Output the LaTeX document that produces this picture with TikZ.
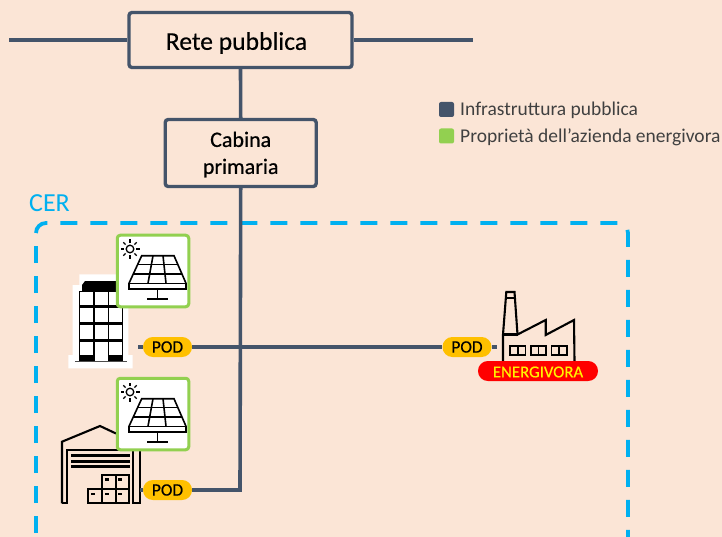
\documentclass[tikz,border=0pt]{standalone}
\usepackage{fontspec}
\usetikzlibrary{calc}
\setmainfont{Carlito}
\newfontfamily\semib[FakeBold=0.6]{Carlito}
\newfontfamily\semic[FakeBold=0.3]{Carlito}
\newcommand{\lowerby}[2]{\raisebox{0pt}[\dimexpr\height+#1\relax][\depth]{#2}}
\definecolor{bgc}{HTML}{FBE5D6}
\definecolor{infra}{HTML}{44546A}
\definecolor{greenp}{HTML}{92D050}
\definecolor{podc}{HTML}{FFC000}
\definecolor{cerc}{HTML}{00B0F0}
\definecolor{txtg}{HTML}{404040}
\tikzset{
  conn/.style={draw=infra,line width=3.6pt},
  bigbox/.style={draw=infra,line width=3.4pt,rounded corners=3pt,fill=bgc,align=center,inner sep=0pt},
  podbox/.style={fill=podc,rounded corners=9.9pt,minimum width=49pt,minimum height=20pt,inner sep=0pt,font=\semic\fontsize{17.4}{17.4}\selectfont},
  redbox/.style={fill=red,rounded corners=9.9pt,minimum width=120pt,minimum height=20pt,inner sep=0pt,text=yellow,font=\semic\fontsize{16.8}{16.8}\selectfont},
  pvbox/.style={draw=greenp,line width=3pt,fill=white,rounded corners=3pt,minimum width=71.5pt,minimum height=71.5pt,inner sep=0pt},
  icon/.style={draw=black,line width=1.6pt},
  iconb/.style={draw=black,line width=2.1pt},
  cerline/.style={cerc,line width=3.8pt},
  legtxt/.style={anchor=west,inner sep=0pt,text=txtg,font=\fontsize{19.5}{20}\selectfont},
  legsq/.style={rounded corners=2pt,minimum width=15pt,minimum height=15pt,inner sep=0pt}
}
\newcommand{\pvicon}[2]{%
\begin{scope}[shift={(#1,#2)}]
 \draw[black,line width=1.3pt] (14,15) circle (3.8);
 \foreach \a in {0,45,...,315}{\draw[black,line width=1.3pt] ($(14,15)+(\a:6.2)$) -- ($(14,15)+(\a:9.5)$);}
 \draw[icon] (25.7,21.7) -- (58,21.7) -- (70,49.3) -- (70,55) -- (13,55) -- (13,49.3) -- cycle;
 \draw[icon] (13,49.3) -- (70,49.3);
 \draw[icon] (21.5,30.5) -- (62,30.5);
 \draw[icon] (17,40) -- (66,40);
 \draw[icon] (37,21.7) -- (32,49.3);
 \draw[icon] (47,21.7) -- (50,49.3);
 \draw[icon] (41.5,55) -- (41.5,65);
 \draw[icon] (31,65) -- (52,65);
\end{scope}}
\begin{document}
\begin{tikzpicture}[x=1pt,y=-1pt]
\useasboundingbox (0,0) rectangle (722,537);
\fill[bgc] (0,0) rectangle (722,537);
\begin{scope}
\clip (0,0) rectangle (722,537);
\draw[cerline,rounded corners=10pt,dash pattern=on 17pt off 13pt] (36,233) -- (36,223) -- (628,223) -- (628,560);
\draw[cerline,dash pattern=on 17pt off 13pt,dash phase=17pt] (36,233) -- (36,560);
\end{scope}
\node[anchor=west,inner sep=0pt,text=cerc,font=\fontsize{26}{26}\selectfont] (cer) at (29,203) {CER};

\coordinate (wl) at (9,40);
\coordinate (wr) at (473,40);
\coordinate (j1) at (240,347);
\coordinate (j2) at (240,490);
\coordinate (s1) at (138,347);
\coordinate (s2) at (140,490);
\coordinate (s3) at (497,347);

% building
\fill[white] (72.7,285) -- (79.3,285) -- (79.3,274.3) -- (128.3,274.3) -- (128.3,355) -- (132.7,355) -- (132.7,368.3) -- (68.3,368.3) -- (68.3,355) -- (72.7,355) -- cycle;
\fill[black] (82,291.7) -- (82,285) -- (85,281) -- (120,281) -- (120,291.7) -- cycle;
\draw[black,line width=1.3pt] (79.5,291.7) rectangle (122.5,361.5);
\draw[black,line width=1.3pt] (94,291.7) -- (94,361) (108.3,291.7) -- (108.3,361);
\fill[black] (79.5,305) rectangle (122.5,308.3);
\fill[black] (79.5,322.3) rectangle (122.5,325);
\fill[black] (79.5,339) rectangle (122.5,341.7);
\fill[black] (79.5,355) rectangle (94,361.5);
\fill[black] (108.3,355) rectangle (122.5,361.5);
\draw[black!70,line width=.6pt] (75,361.7) -- (127,361.7);

% warehouse
\draw[iconb,line join=miter] (62,503.3) -- (62,441.7) -- (100,426) -- (116,433.5);
\draw[iconb,line join=miter] (62,503.3) -- (67.3,503.3) -- (67.3,450) -- (133.3,450) -- (133.3,503.3) -- (140,503.3) -- (140,442);
\fill[black] (71,453.7) rectangle (130,456.7);
\fill[black] (71,459.5) rectangle (130,462.5);
\fill[black] (71,465) rectangle (130,468);
\draw[black,line width=1.7pt] (88,489.3) rectangle (129.3,503.3);
\draw[black,line width=1.7pt] (102,475.3) rectangle (129.3,489.3);
\draw[black,line width=1.7pt] (102,489.3) -- (102,503.3) (115.7,475.3) -- (115.7,503.3);
\foreach \p in {(105,478),(117.7,478),(91,492.5),(105,492.5),(117.7,492.5)}{\fill[black] \p rectangle ++(4,2.7);}

% PV panels
\node[pvbox] (pv1) at (153,271) {};
\pvicon{116}{234}
\node[pvbox] (pv2) at (153,414) {};
\pvicon{116}{377}

% factory
\draw[iconb,line join=miter] (503,361) -- (503,334.5) -- (506.3,292) -- (514.5,292) -- (517.5,334.5) -- (545.7,320) -- (545.7,335) -- (574,320) -- (574.5,361);
\draw[iconb] (503,334.5) -- (517.5,334.5);
\draw[icon] (505.5,298) -- (515,298);
\foreach \x in {510,530.7,551.3}{
 \draw[icon] (\x,346) rectangle ++(15.5,9);
 \draw[icon] (\x+7.7,346) -- (\x+7.7,355);
}
\node[redbox] (energ) at (538,371) {\lowerby{2pt}{ENERGIVORA}};

% nodes and connectors
\node[bigbox,minimum width=223pt,minimum height=55pt,font=\semic\fontsize{25.6}{26}\selectfont] (rete) at (240.5,40) {\lowerby{6pt}{\kern-8pt Rete pubblica}};
\node[bigbox,minimum width=151pt,minimum height=67pt,font=\semib\fontsize{22}{27}\selectfont] (cabina) at (240.7,153) {\lowerby{4pt}{\begin{tabular}{@{}c@{}}Cabina\\primaria\end{tabular}}};
\node[podbox] (pod1) at (167.5,347) {POD};
\node[podbox] (pod2) at (167.5,490) {POD};
\node[podbox] (pod3) at (467,347) {POD};
\draw[conn] (wl) -- (rete.west);
\draw[conn] (rete.east) -- (wr);
\draw[conn] (rete.south) -- (cabina.north);
\draw[conn,line join=miter] (cabina.south) -- (j2) -- (pod2.east);
\draw[conn] (s1) -- (pod1.west);
\draw[conn] (pod1.east) -- (j1) -- (pod3.west);
\draw[conn] (pod3.east) -- (s3);
\draw[conn] (s2) -- (pod2.west);

% legend
\node[legsq,fill=infra] (lg1) at (446.5,109.5) {};
\node[legtxt] (lt1) at (460,110.5) {Infrastruttura pubblica};
\node[legsq,fill=greenp] (lg2) at (446.5,136) {};
\node[legtxt] (lt2) at (460,137) {Proprietà dell’azienda energivora};
\end{tikzpicture}
\end{document}
